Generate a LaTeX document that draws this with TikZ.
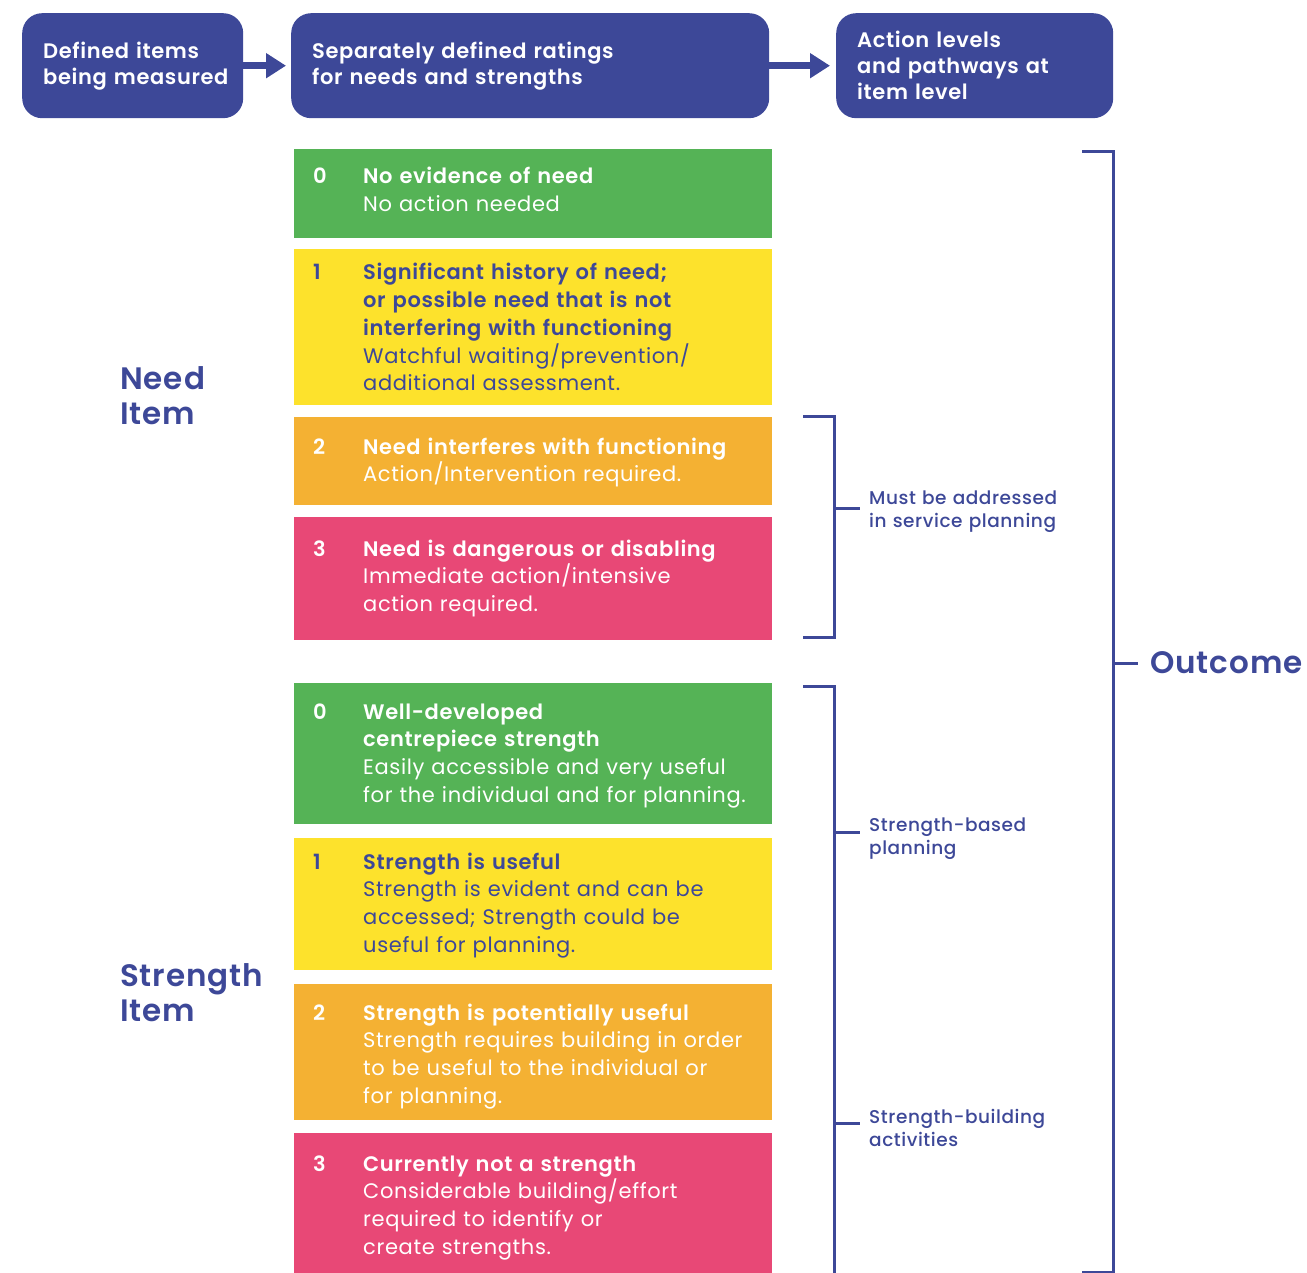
\documentclass[tikz,border=0pt]{standalone}
\usepackage{fontspec}
\setmainfont{Poppins}[BoldFont={Poppins SemiBold}, LetterSpace=3]
\newfontfamily\medfont{Poppins Medium}[LetterSpace=3]
\usetikzlibrary{arrows.meta}

\definecolor{navy}{HTML}{3D4898}
\definecolor{cgreen}{HTML}{55B356}
\definecolor{cyellow}{HTML}{FDE22C}
\definecolor{corange}{HTML}{F4B133}
\definecolor{cpink}{HTML}{E84876}

\tikzset{
  header/.style={anchor=north west, fill=navy, rounded corners=20pt, text=white,
    minimum height=105pt, inner xsep=21pt, inner ysep=0pt, align=left,
    font=\bfseries\fontsize{21}{26}\selectfont},
  harrow/.style={draw=navy, line width=7pt, -{Triangle[length=20pt,width=24pt]}},
  band/.style={anchor=north west, minimum width=478pt, inner sep=0pt},
  rnum/.style={anchor=base west, inner sep=0pt, font=\bfseries\fontsize{21}{27.7}\selectfont},
  rtext/.style={anchor=base west, inner sep=0pt, text width=405pt, align=left,
    font=\fontsize{21}{27.7}\selectfont},
  sidelabel/.style={anchor=base west, inner sep=0pt, text width=170pt, align=left,
    text=navy, font=\bfseries\fontsize{31}{35.5}\selectfont},
  brklabel/.style={anchor=base west, inner sep=0pt, text width=200pt, align=left,
    text=navy, font=\medfont\fontsize{18.5}{23}\selectfont},
  brk/.style={draw=navy, line width=3pt},
}

\begin{document}
\begin{tikzpicture}[x=1pt, y=-1pt]
\useasboundingbox (0,0) rectangle (1307,1273);

% header row
\node[header, text width=179pt] (h1) at (22,13) {Defined items\\\mbox{being measured}};
\node[header, text width=436pt] (h2) at (291,13) {Separately defined ratings\\for needs and strengths};
\node[header, text width=235pt] (h3) at (836,13) {Action levels\\and pathways at\\item level};
\draw[harrow, shorten >=5pt] (h1.east) -- (h2.west);
\draw[harrow, shorten >=6pt] (h2.east) -- (h3.west);

% need ratings
\node[band, fill=cgreen, minimum height=89pt] (n0) at (294,149) {};
\node[rnum, text=white] (n0num) at (313,184) {0};
\node[rtext, text=white] (n0txt) at (363,184) {\textbf{No evidence of need}\\No action needed};

\node[band, fill=cyellow, minimum height=156pt] (n1) at (294,249) {};
\node[rnum, text=navy] (n1num) at (313,280) {1};
\node[rtext, text=navy] (n1txt) at (363,280) {\textbf{Significant history of need;\\or possible need that is not\\interfering with functioning}\\Watchful waiting/prevention/\\additional assessment.};

\node[band, fill=corange, minimum height=88pt] (n2) at (294,417) {};
\node[rnum, text=white] (n2num) at (313,454) {2};
\node[rtext, text=white] (n2txt) at (363,454) {\textbf{Need interferes with functioning}\\Action/Intervention required.};

\node[band, fill=cpink, minimum height=123pt] (n3) at (294,517) {};
\node[rnum, text=white] (n3num) at (313,556) {3};
\node[rtext, text=white] (n3txt) at (363,556) {\textbf{Need is dangerous or disabling}\\Immediate action/intensive\\action required.};

% strength ratings
\node[band, fill=cgreen, minimum height=141pt] (s0) at (294,683) {};
\node[rnum, text=white] (s0num) at (313,719) {0};
\node[rtext, text=white] (s0txt) at (363,719) {\textbf{Well-developed\\centrepiece strength}\\Easily accessible and very useful\\for the individual and for planning.};

\node[band, fill=cyellow, minimum height=132pt] (s1) at (294,838) {};
\node[rnum, text=navy] (s1num) at (313,869) {1};
\node[rtext, text=navy] (s1txt) at (363,869) {\textbf{Strength is useful}\\Strength is evident and can be\\accessed; Strength could be\\useful for planning.};

\node[band, fill=corange, minimum height=136pt] (s2) at (294,984) {};
\node[rnum, text=white] (s2num) at (313,1020) {2};
\node[rtext, text=white] (s2txt) at (363,1020) {\textbf{Strength is potentially useful}\\Strength requires building in order\\to be useful to the individual or\\for planning.};

\node[band, fill=cpink, minimum height=145pt] (s3) at (294,1133) {};
\node[rnum, text=white] (s3num) at (313,1171) {3};
\node[rtext, text=white] (s3txt) at (363,1171) {\textbf{Currently not a strength}\\Considerable building/effort\\required to identify or\\create strengths.};

% item labels
\node[sidelabel] (needlbl) at (120,389) {Need\\Item};
\node[sidelabel] (strlbl) at (120,986) {Strength\\Item};

% bracket over need ratings 2 and 3
\coordinate (nbtop) at (803,416);
\coordinate (nbbot) at (803,637);
\coordinate (nbtick) at (834,508);
\draw[brk] (nbtop) -| (834,637) -- (nbbot);
\draw[brk] (nbtick) -- ++(26,0) coordinate (nbend);
\node[brklabel] (mustlbl) at (869,504) {Must be addressed\\in service planning};

% bracket over strength ratings
\coordinate (sbtop) at (803,686);
\draw[brk] (sbtop) -| (834,1280);
\draw[brk] (834,832) -- ++(26,0) coordinate (sbend1);
\draw[brk] (834,1123) -- ++(26,0) coordinate (sbend2);
\node[brklabel] (sbplbl) at (869,831) {Strength-based\\planning};
\node[brklabel] (sbalbl) at (869,1123) {Strength-building\\activities};

% outcome bracket
\coordinate (obtop) at (1082,152);
\coordinate (obbot) at (1082,1272);
\draw[brk] (obtop) -| (1113,1272) -- (obbot);
\draw[brk] (1113,663) -- ++(25,0) coordinate (obend);
\node[anchor=base west, inner sep=0pt, text=navy, font=\bfseries\fontsize{31}{36}\selectfont] (outlbl) at (1150,673) {Outcome};
\end{tikzpicture}
\end{document}
